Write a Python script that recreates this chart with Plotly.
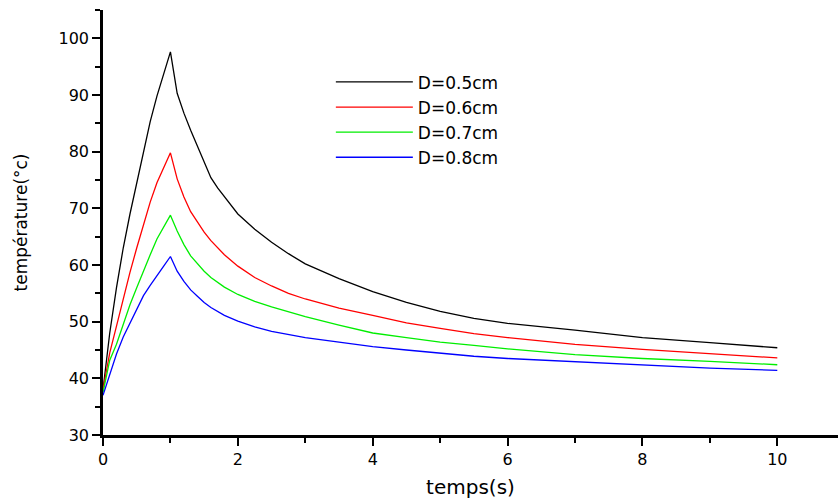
import plotly.graph_objects as go

t = [0, 0.1, 0.2, 0.3, 0.4, 0.5, 0.6, 0.7, 0.8, 0.9, 1.0,
     1.1, 1.2, 1.3, 1.4, 1.5, 1.6, 1.7, 1.8, 2.0, 2.25, 2.5, 2.75, 3.0,
     3.5, 4.0, 4.5, 5.0, 5.5, 6.0, 7.0, 8.0, 9.0, 10.0]

d05 = [38.0, 48.0, 56.0, 63.0, 69.0, 74.5, 80.0, 85.3, 89.8, 93.5, 97.6,
       90.3, 86.8, 83.8, 81.0, 78.0, 75.4, 73.6, 72.0, 69.0, 66.3, 64.0, 62.0, 60.2,
       57.6, 55.3, 53.4, 51.8, 50.6, 49.7, 48.5, 47.2, 46.3, 45.4]
d06 = [38.0, 44.5, 49.2, 54.0, 58.7, 63.0, 67.2, 71.1, 74.5, 77.2, 79.8,
       75.2, 72.0, 69.4, 67.6, 65.8, 64.3, 63.0, 61.8, 59.8, 57.8, 56.3, 55.0, 54.0,
       52.4, 51.1, 49.8, 48.8, 47.9, 47.2, 46.0, 45.1, 44.3, 43.6]
d07 = [37.5, 43.2, 46.0, 49.5, 53.0, 56.0, 59.0, 61.8, 64.6, 66.8, 68.8,
       66.0, 63.6, 61.6, 60.2, 58.9, 57.8, 56.9, 56.1, 54.8, 53.6, 52.6, 51.7, 50.9,
       49.4, 48.0, 47.2, 46.4, 45.8, 45.2, 44.2, 43.5, 43.0, 42.4]
d08 = [37.0, 40.8, 44.3, 47.3, 49.7, 52.3, 54.6, 56.4, 58.0, 59.8, 61.5,
       58.9, 57.1, 55.6, 54.5, 53.4, 52.5, 51.8, 51.1, 50.1, 49.1, 48.3, 47.7, 47.2,
       46.4, 45.6, 45.0, 44.4, 43.9, 43.5, 42.9, 42.3, 41.8, 41.4]

series_names = ["D=0.5cm", "D=0.6cm", "D=0.7cm", "D=0.8cm"]
series_values = [d05, d06, d07, d08]
colors = ["#000000", "#ff0000", "#00ee00", "#0000ff"]

FONT = "DejaVu Sans"

fig = go.Figure()
for name, vals, c in zip(series_names, series_values, colors):
    fig.add_trace(go.Scatter(x=t, y=vals, mode="lines", name=name,
                             line=dict(color=c, width=1.3)))

fig.update_layout(
    width=838, height=500,
    margin=dict(l=103, r=0, t=10, b=65),
    plot_bgcolor="white", paper_bgcolor="white",
    font=dict(family=FONT, color="black", size=16),
    legend=dict(x=0.31, y=0.872, xanchor="left", yanchor="top",
                font=dict(family=FONT, size=17, color="black"),
                bgcolor="rgba(0,0,0,0)", itemwidth=77,
                tracegroupgap=0),
    showlegend=True,
)

fig.update_xaxes(
    range=[0, 10.9], tick0=0, dtick=2,
    showgrid=False, zeroline=False,
    showline=True, linecolor="black", linewidth=2.5,
    ticks="outside", ticklen=8, tickwidth=2, tickcolor="black",
    tickfont=dict(family=FONT, size=16),
    minor=dict(dtick=1, ticks="outside", ticklen=5, tickwidth=2, tickcolor="black", showgrid=False),
    title=dict(text="temps(s)", font=dict(family=FONT, size=20), standoff=13),
)
fig.update_yaxes(
    range=[30, 105], tick0=30, dtick=10,
    showgrid=False, zeroline=False,
    showline=True, linecolor="black", linewidth=2.5,
    ticks="outside", ticklen=8, tickwidth=2, tickcolor="black",
    tickfont=dict(family=FONT, size=16),
    minor=dict(dtick=5, ticks="outside", ticklen=5, tickwidth=2, tickcolor="black", showgrid=False),
    title=dict(text="température(°c)", font=dict(family=FONT, size=17), standoff=27),
)

fig.write_html("out.html")
